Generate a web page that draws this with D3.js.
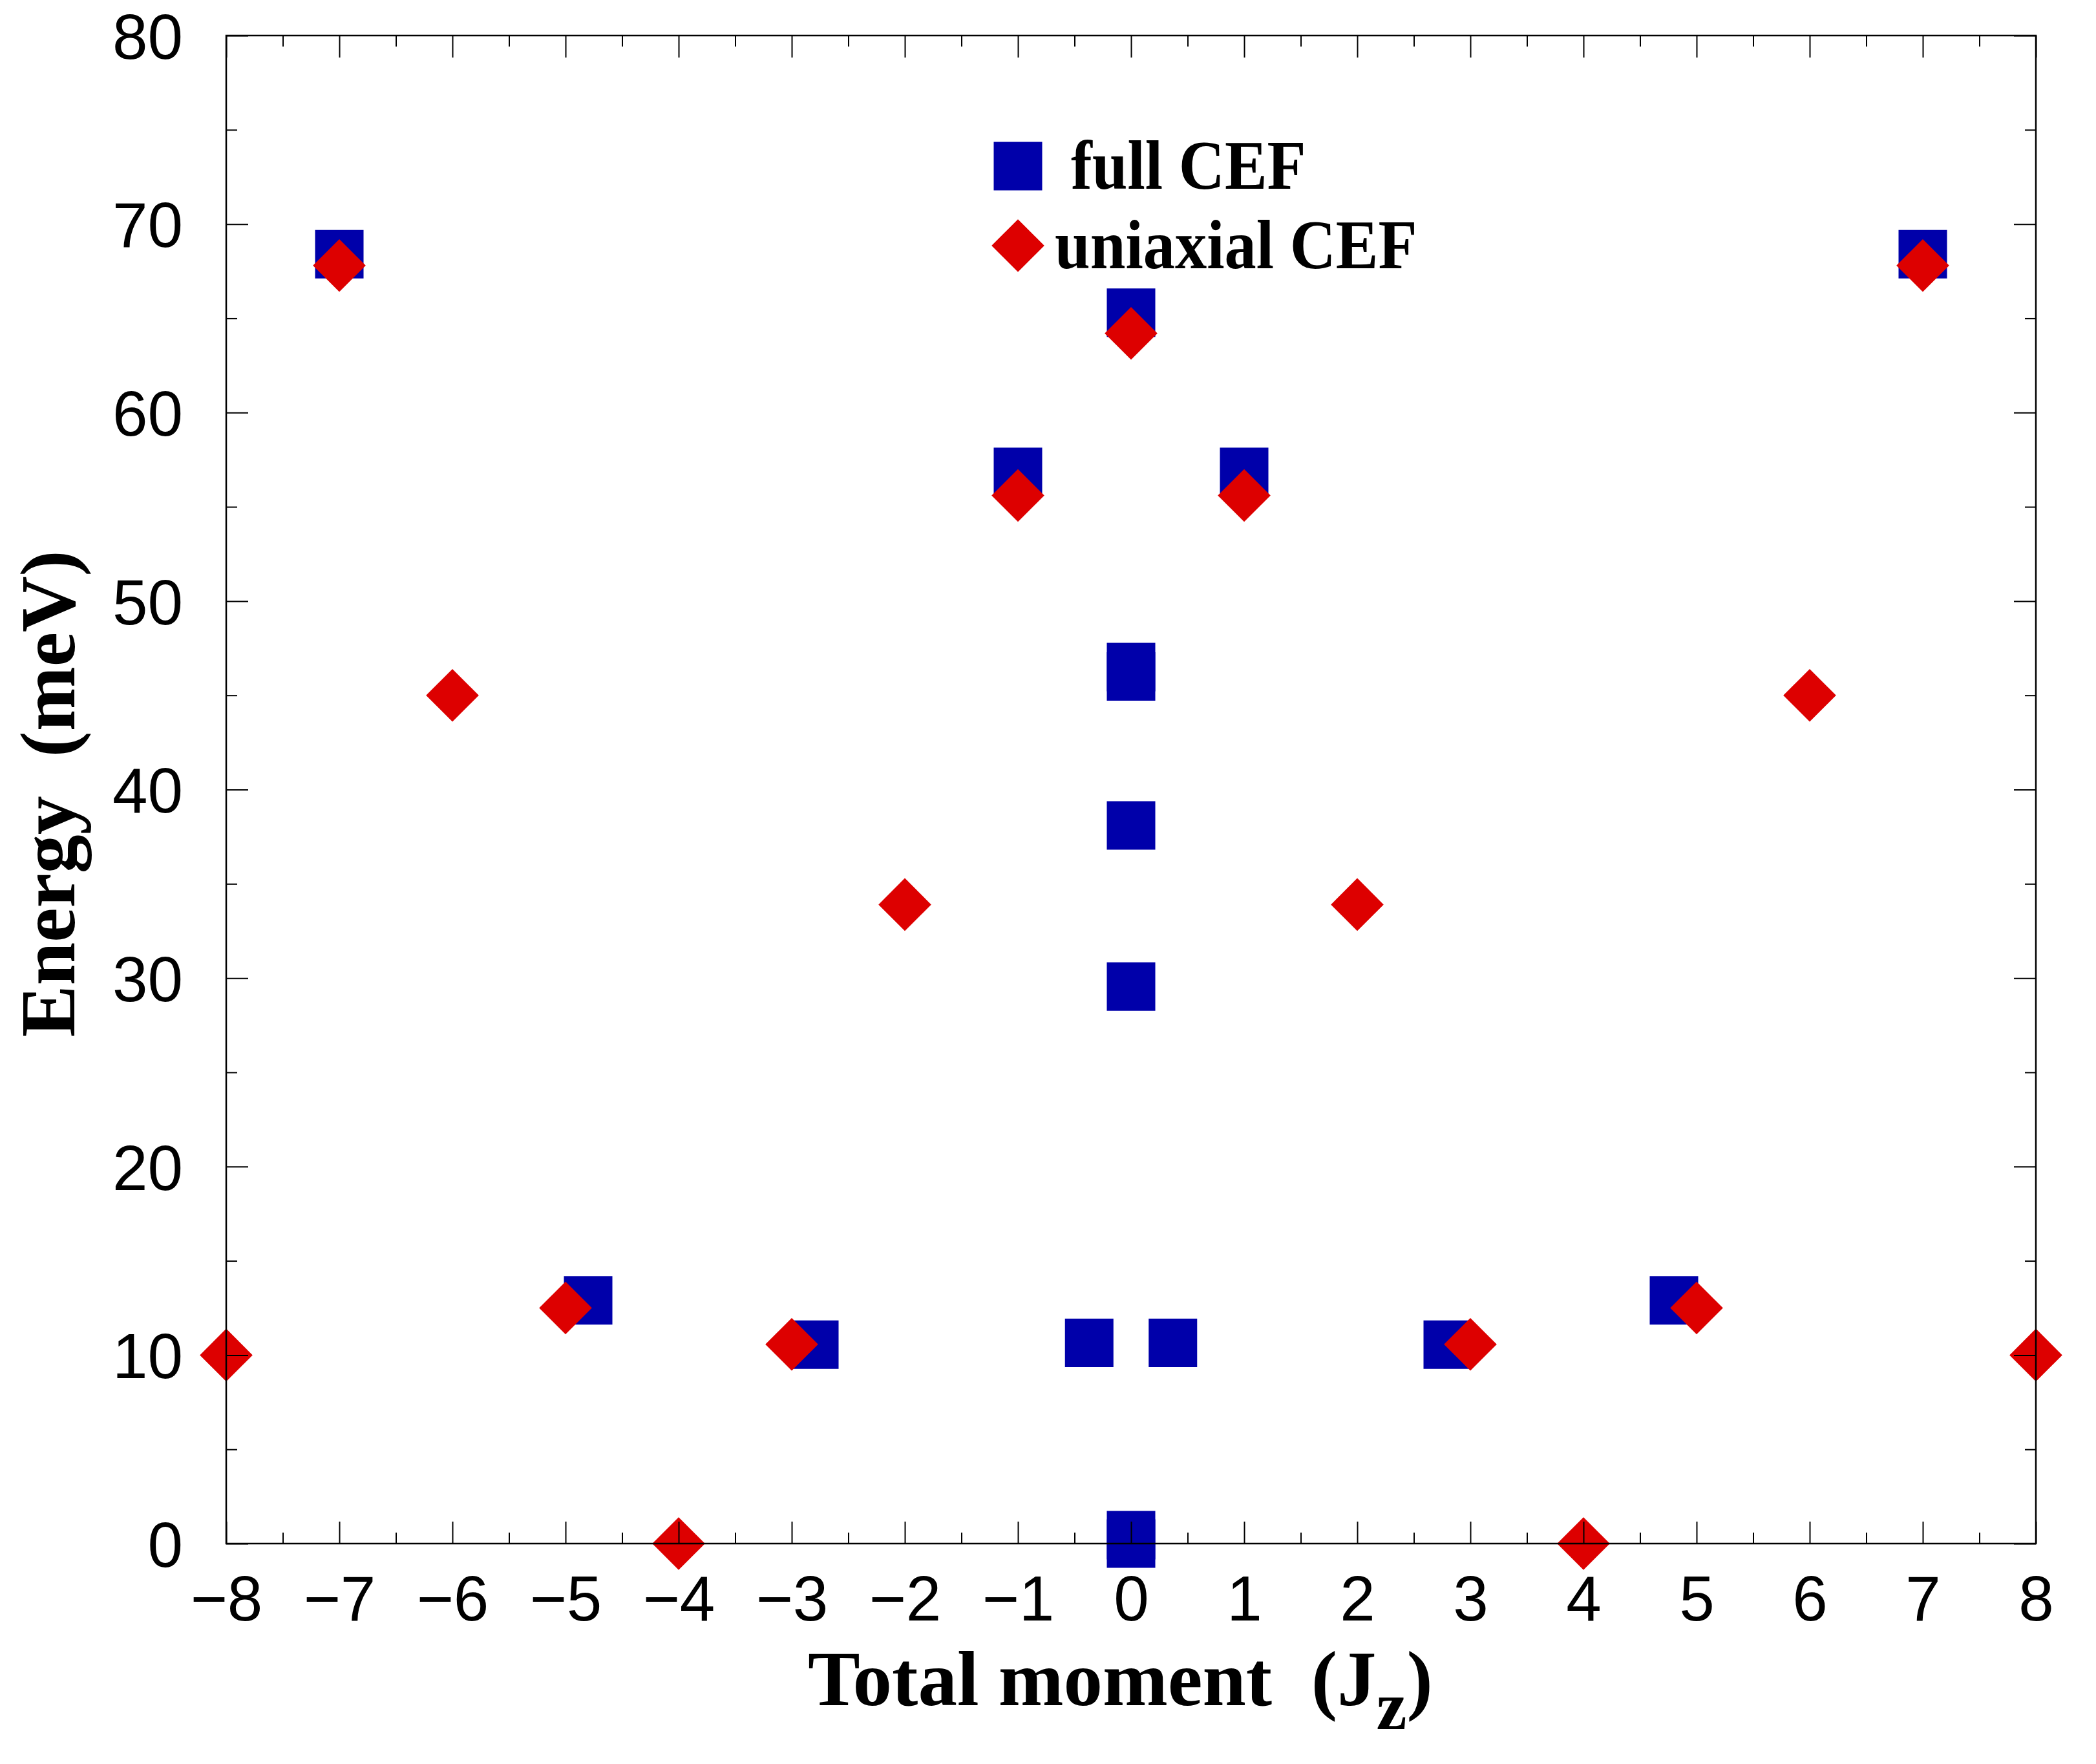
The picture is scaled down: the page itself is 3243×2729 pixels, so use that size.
<!DOCTYPE html>
<html>
<head>
<meta charset="utf-8">
<script src="https://d3js.org/d3.v7.min.js"></script>
<style>
    body { margin: 0; background: #fff; }
    text { white-space: pre; }
</style>
</head>
<body>
<script>
// full CEF levels (blue squares)
var fullJz = [-7, 7, 0, -1, 1, 0, 0, 0, 0, -4.8, 4.8, -2.8, 2.8, -0.37, 0.37, 0, 0];
var fullEnergy = [68.4, 68.4, 65.3, 56.85, 56.85, 46.5, 46.0, 38.1, 29.55, 12.9, 12.9, 10.55, 10.55, 10.65, 10.65, 0.45, 0];

// uniaxial CEF levels (red diamonds)
var uniJz = [-8, 8, -7, 7, -6, 6, -5, 5, -4, 4, -3, 3, -2, 2, -1, 1, 0];
var uniEnergy = [10, 10, 67.8, 67.8, 45, 45, 12.5, 12.5, 0, 0, 10.57, 10.57, 33.9, 33.9, 55.6, 55.6, 64.2];

var xTicks = d3.range(-8, 9, 1);
var xMinorTicks = d3.range(-7.5, 8, 1);
var yTicks = [0, 10, 20, 30, 40, 50, 60, 70, 80];
var yMinorTicks = [5, 15, 25, 35, 45, 55, 65, 75];

var legendLabels = ["full CEF", "uniaxial CEF"];

var svgWidth = 3243;
var svgHeight = 2729;
var margin = {
    top: 55,
    right: 93,
    bottom: 341,
    left: 350
};

var blue = "#0000aa";
var red = "#dd0000";

var svg = d3.select("body")
        .append("svg")
        .attr("width", svgWidth)
        .attr("height", svgHeight);

var xScale = d3.scaleLinear()
        .domain([-8, 8])
        .range([margin.left, svgWidth - margin.right]);

var yScale = d3.scaleLinear()
        .domain([0, 80])
        .range([svgHeight - margin.bottom, margin.top]);

var square = d3.symbol().type(d3.symbolSquare).size(75 * 75);
var diamond = d3.symbol().type(d3.symbolSquare).size(57.7 * 57.7);

var fullData = fullJz.map(function (d, i) {
    return {x: d, y: fullEnergy[i]};
});
var uniData = uniJz.map(function (d, i) {
    return {x: d, y: uniEnergy[i]};
});

// markers
svg.append("g")
        .selectAll("path")
        .data(fullData)
        .enter()
        .append("path")
        .attr("d", square)
        .attr("fill", blue)
        .attr("transform", function (d) {
            return "translate(" + xScale(d.x) + "," + yScale(d.y) + ")";
        });

svg.append("g")
        .selectAll("path")
        .data(uniData)
        .enter()
        .append("path")
        .attr("d", diamond)
        .attr("fill", red)
        .attr("transform", function (d) {
            return "translate(" + xScale(d.x) + "," + yScale(d.y) + ") rotate(45)";
        });

// axes, ticks pointing inward on all four sides
var x0 = margin.left;
var x1 = svgWidth - margin.right;
var y0 = svgHeight - margin.bottom;
var y1 = margin.top;

function styleAxis(g) {
    g.select(".domain").remove();
    g.selectAll(".tick line")
            .attr("stroke", "#000")
            .attr("stroke-width", 2);
    g.selectAll(".tick text")
            .attr("fill", "#000")
            .style("font-family", "'Liberation Sans', Arial, Helvetica, sans-serif")
            .style("font-size", "98px");
}

svg.append("g")
        .attr("transform", "translate(0," + y0 + ")")
        .call(d3.axisBottom(xScale).tickValues(xTicks).tickSizeInner(-34).tickSizeOuter(0).tickPadding(49))
        .call(styleAxis)
        .selectAll(".tick text")
        .attr("dy", "0.71em");

svg.append("g")
        .attr("transform", "translate(0," + y0 + ")")
        .call(d3.axisBottom(xScale).tickValues(xMinorTicks).tickSizeInner(-17).tickSizeOuter(0).tickFormat(""))
        .call(styleAxis);

svg.append("g")
        .attr("transform", "translate(0," + y1 + ")")
        .call(d3.axisTop(xScale).tickValues(xTicks).tickSizeInner(-34).tickSizeOuter(0).tickFormat(""))
        .call(styleAxis);

svg.append("g")
        .attr("transform", "translate(0," + y1 + ")")
        .call(d3.axisTop(xScale).tickValues(xMinorTicks).tickSizeInner(-17).tickSizeOuter(0).tickFormat(""))
        .call(styleAxis);

svg.append("g")
        .attr("transform", "translate(" + x0 + ",0)")
        .call(d3.axisLeft(yScale).tickValues(yTicks).tickSizeInner(-34).tickSizeOuter(0).tickPadding(67))
        .call(styleAxis)
        .selectAll(".tick text")
        .attr("dy", "0.36em");

svg.append("g")
        .attr("transform", "translate(" + x0 + ",0)")
        .call(d3.axisLeft(yScale).tickValues(yMinorTicks).tickSizeInner(-17).tickSizeOuter(0).tickFormat(""))
        .call(styleAxis);

svg.append("g")
        .attr("transform", "translate(" + x1 + ",0)")
        .call(d3.axisRight(yScale).tickValues(yTicks).tickSizeInner(-34).tickSizeOuter(0).tickFormat(""))
        .call(styleAxis);

svg.append("g")
        .attr("transform", "translate(" + x1 + ",0)")
        .call(d3.axisRight(yScale).tickValues(yMinorTicks).tickSizeInner(-17).tickSizeOuter(0).tickFormat(""))
        .call(styleAxis);

// frame
svg.append("rect")
        .attr("x", x0)
        .attr("y", y1)
        .attr("width", x1 - x0)
        .attr("height", y0 - y1)
        .attr("fill", "none")
        .attr("stroke", "#000")
        .attr("stroke-width", 2.5);

// axis titles
var serif = "'Liberation Serif', 'Times New Roman', Times, serif";

var xTitle = svg.append("text")
        .attr("x", 1250)
        .attr("y", 2638)
        .style("font-family", serif)
        .style("font-weight", "bold")
        .style("font-size", "121px")
        .attr("fill", "#000");
xTitle.append("tspan").text("Total moment  (J");
xTitle.append("tspan").attr("dy", 37).style("font-size", "106px").text("z");
xTitle.append("tspan").attr("dy", -37).text(")");

svg.append("text")
        .attr("transform", "translate(115,1228) rotate(-90)")
        .attr("text-anchor", "middle")
        .style("font-family", serif)
        .style("font-weight", "bold")
        .style("font-size", "120px")
        .attr("fill", "#000")
        .text("Energy  (meV)");

// legend
var legend = svg.append("g");

legend.append("path")
        .attr("d", square)
        .attr("fill", blue)
        .attr("transform", "translate(1575,257)");

legend.append("path")
        .attr("d", diamond)
        .attr("fill", red)
        .attr("transform", "translate(1575,380) rotate(45)");

legend.selectAll("text")
        .data(legendLabels)
        .enter()
        .append("text")
        .attr("transform", function (d, i) {
            return i === 0 ? "translate(1657,292) scale(0.92,1)" : "translate(1632,415) scale(0.92,1)";
        })
        .style("font-family", serif)
        .style("font-weight", "bold")
        .style("font-size", "107px")
        .attr("fill", "#000")
        .text(function (d) {
            return d;
        });
</script>
</body>
</html>
